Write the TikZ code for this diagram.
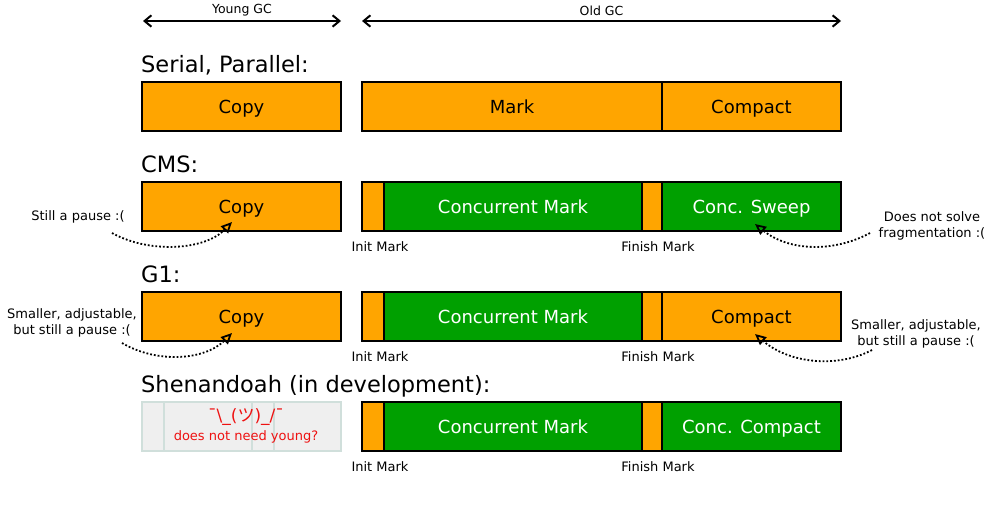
\documentclass[tikz,border=0pt]{standalone}
\usepackage{fontspec}
\setmainfont{DejaVu Sans}
\newfontfamily\cjk{Noto Sans CJK JP}
\usetikzlibrary{arrows.meta,positioning,calc}
\definecolor{gcorange}{HTML}{FFA500}
\definecolor{gcgreen}{HTML}{00A000}
\definecolor{gcgrey}{HTML}{EFEFEF}
\definecolor{gcedge}{HTML}{D0DFDB}
\definecolor{gcred}{HTML}{EE1111}

\begin{document}
\begin{tikzpicture}[
  x=1pt, y=-1pt,
  font=\fontsize{18}{21}\selectfont,
  seg/.style={draw, line width=2.4pt, minimum height=49pt, inner sep=0pt, outer sep=0pt, text height=14pt, text depth=0pt},
  og/.style={seg, fill=gcorange, text=black},
  gr/.style={seg, fill=gcgreen, text=white},
  gy/.style={seg, fill=gcgrey, draw=gcedge, line width=1.2pt},
  hd/.style={font=\fontsize{22.5}{26}\selectfont, anchor=base west, inner sep=0pt},
  lbl/.style={font=\fontsize{13}{16.5}\selectfont, align=center, inner sep=0pt},
  dim/.style={line width=2pt, {Straight Barb[length=2.4mm,width=4mm]}-{Straight Barb[length=2.4mm,width=4mm]}},
  na/.style={dotted, line width=1.8pt, -{Triangle[open,length=11pt,width=10pt]}}
]
\useasboundingbox (0,0) rectangle (1004,504);

% GC phases
\coordinate (ys) at (143,21);
\coordinate (ye) at (341,21);
\coordinate (os) at (362,21);
\coordinate (oe) at (841,21);
\draw[dim] (ys) -- node[lbl, font=\fontsize{12.5}{15}\selectfont, above=4pt]{Young GC} (ye);
\draw[dim] (os) -- node[lbl, font=\fontsize{12.5}{15}\selectfont, above=4pt]{Old GC} (oe);

% Serial, Parallel
\node[hd] (serial) at (141,72) {Serial, Parallel:};
\node[og, minimum width=199pt, anchor=north west] (copyA) at (142,82) {Copy};
\node[og, minimum width=300pt, right=21pt of copyA] (markA) {Mark};
\node[og, minimum width=179pt, right=0pt of markA] (compactA) {Compact};

% CMS
\node[hd] (cms) at (141,172) {CMS:};
\node[og, minimum width=199pt, anchor=north west] (copyB) at (142,182) {Copy};
\node[og, minimum width=22pt, right=21pt of copyB] (initB) {};
\node[gr, minimum width=258pt, right=0pt of initB] (cmarkB) {Concurrent Mark};
\node[og, minimum width=20pt, right=0pt of cmarkB] (finB) {};
\node[gr, minimum width=179pt, right=0pt of finB] (sweepB) {Conc. Sweep};
\node[lbl] (initlB) at (380,247) {Init Mark};
\node[lbl] (finlB) at (658,247) {Finish Mark};

\node[lbl] (pauseB) at (78,217) {Still a pause :(};
\node[lbl] (fragB) at (932,226) {Does not solve\\fragmentation :(};
\coordinate (pBs) at (112,233);
\coordinate (pBe) at (232,222);
\coordinate (fBs) at (870,233);
\coordinate (fBe) at (755,224);
\draw[na] (pBs) .. controls (150,254) and (205,250) .. (pBe);
\draw[na] (fBs) .. controls (835,252) and (790,252) .. (fBe);

% G1
\node[hd] (gone) at (141,282) {G1:};
\node[og, minimum width=199pt, anchor=north west] (copyC) at (142,292) {Copy};
\node[og, minimum width=22pt, right=21pt of copyC] (initC) {};
\node[gr, minimum width=258pt, right=0pt of initC] (cmarkC) {Concurrent Mark};
\node[og, minimum width=20pt, right=0pt of cmarkC] (finC) {};
\node[og, minimum width=179pt, right=0pt of finC] (compactC) {Compact};
\node[lbl] (initlC) at (380,357) {Init Mark};
\node[lbl] (finlC) at (658,357) {Finish Mark};

\node[lbl] (pauseC) at (72,323) {Smaller, adjustable,\\but still a pause :(};
\node[lbl] (pauseR) at (916,334) {Smaller, adjustable,\\but still a pause :(};
\coordinate (pCs) at (122,343);
\coordinate (pCe) at (232,333);
\coordinate (rCs) at (872,350);
\coordinate (rCe) at (755,334);
\draw[na] (pCs) .. controls (158,364) and (205,360) .. (pCe);
\draw[na] (rCs) .. controls (838,368) and (790,364) .. (rCe);

% Shenandoah
\node[hd] (shen) at (141,392) {Shenandoah (in development):};
\node[gy, minimum width=22pt, anchor=north west] (yD1) at (142,402) {};
\node[gy, minimum width=88pt, right=0pt of yD1] (yD2) {};
\node[gy, minimum width=22pt, right=0pt of yD2] (yD3) {};
\node[gy, minimum width=67pt, right=0pt of yD3] (yD4) {};
\node[lbl, text=gcred, font=\fontsize{13}{19}\selectfont] (shrug) at (246,426)
  {{\fontsize{17}{19}\selectfont ¯\textbackslash\_({\cjk ツ})\_/¯}\\does not need young?};
\node[og, minimum width=22pt, right=21pt of yD4] (initD) {};
\node[gr, minimum width=258pt, right=0pt of initD] (cmarkD) {Concurrent Mark};
\node[og, minimum width=20pt, right=0pt of cmarkD] (finD) {};
\node[gr, minimum width=179pt, right=0pt of finD] (ccompD) {Conc. Compact};
\node[lbl] (initlD) at (380,467) {Init Mark};
\node[lbl] (finlD) at (658,467) {Finish Mark};
\end{tikzpicture}
\end{document}
